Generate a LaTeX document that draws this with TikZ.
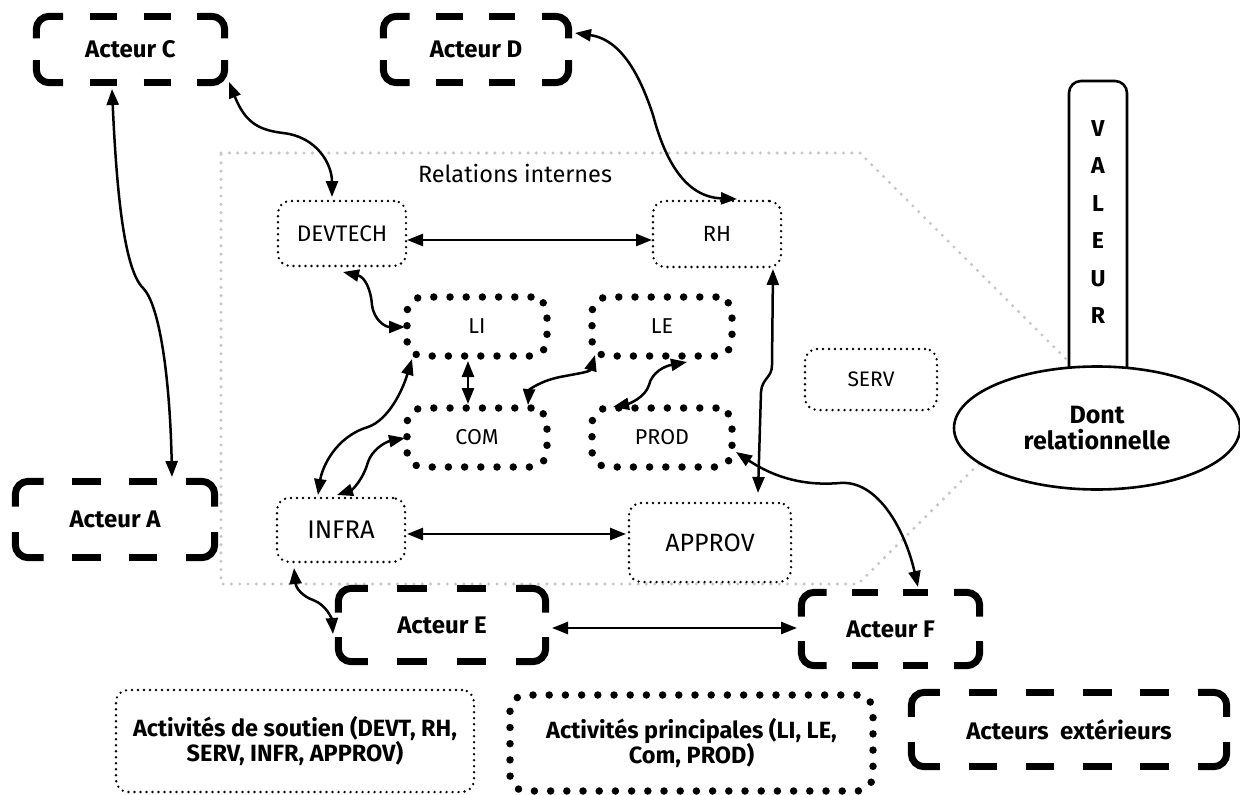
\documentclass[tikz,border=0pt]{standalone}
\usepackage{fontspec}
\setmainfont{Fira Sans}
\usetikzlibrary{arrows.meta,shapes.geometric,calc}
\tikzset{
  actortext/.style={inner sep=0pt, align=center, font=\bfseries\fontsize{24}{28}\selectfont},
  actline/.style={line width=7pt, rounded corners=13pt},
  support/.style={draw, line width=2.6pt, rounded corners=12pt, dash pattern=on 0pt off 6pt,
    line cap=round, inner sep=0pt, align=center, font=\fontsize{22.5}{26}\selectfont},
  mainact/.style={draw, line width=7.5pt, rounded corners=16pt, dash pattern=on 0pt off 16.2pt,
    line cap=round, inner sep=0pt, align=center, font=\fontsize{21.5}{25}\selectfont},
  link/.style={line width=2.5pt, {Triangle[length=16pt,width=12pt]}-{Triangle[length=16pt,width=12pt]}},
  zone/.style={draw=black!22, line width=3.4pt, dash pattern=on 0pt off 8.3pt, line cap=round},
  legtext/.style={font=\bfseries\fontsize{23.5}{25.5}\selectfont}
}
% dashed actor frame: #1 options, #2 name, #3 cx, #4 cy, #5 w, #6 h, #7 text
\newcommand\actorbox[7][]{%
  \node[actortext,#1, minimum width=#5pt, minimum height=#6pt] (#2) at (#3,#4) {#7};
  \pgfmathsetmacro\nw{max(0,round((#5/27-3)/2))}%
  \pgfmathsetmacro\uw{#5/(2*\nw+3)}%
  \pgfmathsetmacro\nh{max(0,round((#6/27-3)/2))}%
  \pgfmathsetmacro\uh{#6/(2*\nh+3)}%
  \draw[actline] ($(#2.north west)+(0,\uh)$) |- ($(#2.north west)+(\uw,0)$);
  \draw[actline] ($(#2.north east)+(-\uw,0)$) -| ($(#2.north east)+(0,\uh)$);
  \draw[actline] ($(#2.south east)+(0,-\uh)$) |- ($(#2.south east)+(-\uw,0)$);
  \draw[actline] ($(#2.south west)+(\uw,0)$) -| ($(#2.south west)+(0,-\uh)$);
  \draw[line width=7pt, dash pattern=on \uw pt off \uw pt, dash phase=\uw pt]
    ($(#2.north west)+(\uw,0)$) -- ($(#2.north east)+(-\uw,0)$);
  \draw[line width=7pt, dash pattern=on \uw pt off \uw pt, dash phase=\uw pt]
    ($(#2.south west)+(\uw,0)$) -- ($(#2.south east)+(-\uw,0)$);
  \draw[line width=7pt, dash pattern=on \uh pt off \uh pt, dash phase=\uh pt]
    ($(#2.north west)+(0,\uh)$) -- ($(#2.south west)+(0,-\uh)$);
  \draw[line width=7pt, dash pattern=on \uh pt off \uh pt, dash phase=\uh pt]
    ($(#2.north east)+(0,\uh)$) -- ($(#2.south east)+(0,-\uh)$);
}
\begin{document}
\begin{tikzpicture}[x=1pt,y=-1pt]
\fill[white] (0,0) rectangle (1240,795);
\useasboundingbox (0,0) rectangle (1240,795);

% internal zone
\draw[zone] (221,153) -- (860,153) -- (1075,368) -- (858,584) -- (221,584) -- cycle;
\node (zl) at (515,173) {\fontsize{23.5}{27}\selectfont Relations internes};

% actors
\actorbox{acC}{130.5}{49.5}{188}{66}{Acteur C}
\actorbox{acD}{476}{49.5}{185}{66}{Acteur D}
\actorbox{acA}{115}{519.5}{199}{76}{Acteur A}
\actorbox{acE}{442}{625}{207}{73}{Acteur E}
\actorbox{acF}{890.5}{629}{178}{73}{Acteur F}
\actorbox[font=\bfseries\fontsize{24}{28}\selectfont]{acX}{1069}{729.5}{315}{74}{Acteurs~ extérieurs}

% support activities
\node[support, minimum width=128pt, minimum height=65pt] (devtech) at (342,233.5) {DEVTECH};
\node[support, minimum width=128pt, minimum height=66pt, font=\fontsize{22}{26}\selectfont] (rh) at (717,234) {RH};
\node[support, minimum width=132pt, minimum height=61pt, font=\fontsize{21}{25}\selectfont] (serv) at (871,379.5) {SERV};
\node[support, minimum width=128pt, minimum height=64pt, font=\fontsize{25.5}{29}\selectfont] (infra) at (341,530) {INFRA};
\node[support, minimum width=162pt, minimum height=79pt, font=\fontsize{25}{29}\selectfont] (approv) at (710,542.5) {APPROV};

% main activities
\node[mainact, minimum width=140pt, minimum height=59pt] (li) at (477,326.5) {LI};
\node[mainact, minimum width=140pt, minimum height=59pt] (le) at (662,326.5) {LE};
\node[mainact, minimum width=140pt, minimum height=59pt] (com) at (477,437.5) {COM};
\node[mainact, minimum width=140pt, minimum height=59pt] (prod) at (662,437.5) {PROD};

% value column and ellipse
\node[draw, fill=white, line width=2.6pt, rounded corners=12pt, minimum width=58pt, minimum height=300pt, inner sep=0pt] (val) at (1098,231) {};
\node[align=center, inner sep=0pt, font=\bfseries\fontsize{23}{37.4}\selectfont] (valt) at (1098,222) {V\\A\\L\\E\\U\\R};
\node[draw, fill=white, ellipse, line width=2.6pt, minimum width=286pt, minimum height=123pt, inner sep=0pt,
  align=center, font=\bfseries\fontsize{25}{25.5}\selectfont] (ell) at (1097,428) {Dont\\relationnelle};

% legend
\node[support, minimum width=358pt, minimum height=102pt, legtext] (leg1) at (295,741) {Activités de soutien (DEVT, RH,\\SERV, INFR, APPROV)};
\node[mainact, minimum width=363pt, minimum height=96pt, legtext] (leg2) at (691.5,743) {Activités principales (LI, LE,\\Com, PROD)};

% connectors
\draw[link] ($(acC)+(-18.5,39.5)$) .. controls (117,200) and (125,270) .. (143,288)
  .. controls (160,305) and (170,380) .. ($(acA)+(57,-42.5)$);
\draw[link] ($(acC)+(98.5,32.5)$) .. controls (245,122) and (258,130) .. (283,133)
  .. controls (318,137) and (332,165) .. ($(devtech)+(-10,-36.5)$);
\draw[link] ($(acD)+(99,-16.5)$) .. controls (625,40) and (643,85) .. (653,115)
  .. controls (665,160) and (685,197) .. ($(rh)+(20,-35)$);
\draw[link] ($(devtech)+(65,6.5)$) -- ($(rh)+(-65,6)$);
\draw[link] ($(devtech)+(1,38.5)$) .. controls (365,277) and (371,290) .. (372,305)
  .. controls (374,320) and (385,327) .. ($(li)+(-72,0.5)$);
\draw[link] ($(li)+(-9,34.5)$) -- ($(com)+(-9,-33.5)$);
\draw[link] ($(le)+(-67,28.5)$) .. controls (590,372) and (575,374) .. (560,377)
  .. controls (540,381) and (529,390) .. ($(com)+(51,-32.5)$);
\draw[link] ($(le)+(25,35.5)$) .. controls (665,366) and (652,372) .. (649,385)
  .. controls (645,398) and (628,404) .. ($(prod)+(-49,-30.5)$);
\draw[link] ($(rh)+(56,35)$) -- (772,365) .. controls (772,378) and (762,378) .. (761,392)
  -- ($(approv)+(48,-49.5)$);
\draw[link] ($(prod)+(74,14.5)$) .. controls (775,478) and (805,486) .. (840,483)
  .. controls (878,480) and (905,530) .. ($(acF)+(27.5,-42)$);
\draw[link] ($(li)+(-65,32.5)$) .. controls (402,392) and (388,420) .. (368,427)
  .. controls (335,437) and (322,468) .. ($(infra)+(-23,-35)$);
\draw[link] ($(com)+(-72,0.5)$) .. controls (385,442) and (372,450) .. (368,462)
  .. controls (363,480) and (352,490) .. ($(infra)+(-4,-35)$);
\draw[link] ($(infra)+(66,4)$) -- ($(approv)+(-84,-8.5)$);
\draw[link] ($(infra)+(-47,38)$) .. controls (296,588) and (302,596) .. (313,600)
  .. controls (327,605) and (332,620) .. ($(acE)+(-109,9)$);
\draw[link] ($(acE)+(110,3)$) -- ($(acF)+(-93.5,-1)$);
\end{tikzpicture}
\end{document}
